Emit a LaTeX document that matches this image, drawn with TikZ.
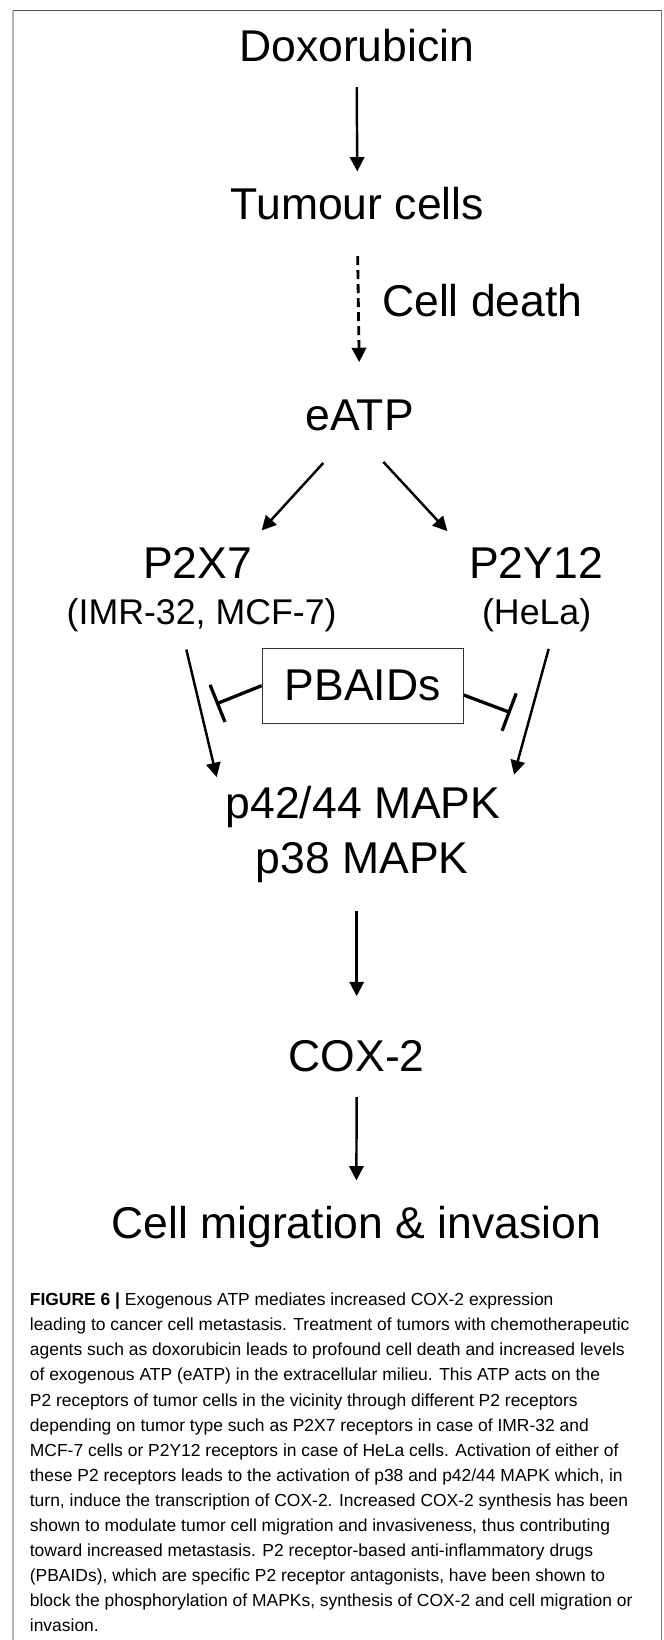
\documentclass[tikz,border=0pt]{standalone}
\usepackage{fontspec}
\setmainfont{Liberation Sans}
\usetikzlibrary{arrows.meta, positioning}
\definecolor{ctop}{HTML}{505050}
\definecolor{cleft}{HTML}{B4B4B4}
\definecolor{cright}{HTML}{7A7A7A}
\definecolor{cbox}{HTML}{333333}
\tikzset{
  every picture/.style={line width=2.1pt},
  lbl/.style={font=\fontsize{38}{46}\selectfont, inner sep=0pt, text height=1cm, text depth=0.35cm, anchor=base},
  sublbl/.style={font=\fontsize{30.5}{36}\selectfont, inner sep=0pt, text height=0.8cm, text depth=0.25cm, anchor=base},
  box/.style={draw=cbox, line width=0.9pt, inner sep=0pt, minimum width=6.03cm, minimum height=2.25cm, font=\fontsize{38}{46}\selectfont},
  arrow/.style={-{Triangle[length=0.43cm, width=0.43cm]}},
  block/.style={-{Bar[width=1.2cm]}, line width=2.8pt},
  capt/.style={font=\fontsize{14.9}{21.4}\selectfont, align=left, inner sep=0pt, anchor=base west},
}

\begin{document}
\begin{tikzpicture}
  \useasboundingbox (0,0) rectangle (19.89,-49.2);
  % figure frame
  \draw[cleft, line width=1.7pt] (0.38,-0.32) -- (0.38,-49.2);
  \draw[cright, line width=0.9pt] (19.85,-0.32) -- (19.85,-49.2);
  \draw[ctop, line width=1.3pt] (0.38,-0.32) -- (19.87,-0.32);
  % pathway
  \node[lbl] (dox) at (10.70,-1.85) {Doxorubicin};
  \node[lbl] (tum) at (10.72,-6.60) {Tumour cells};
  \node[lbl] (eatp) at (10.79,-12.90) {eATP};
  \draw[arrow, shorten <=0.38cm, shorten >=0.42cm] (dox.south) -- (tum.north);
  \draw[arrow, line width=2.4pt, dash pattern=on 0.27cm off 0.15cm, shorten <=0.70cm, shorten >=1.0cm] (tum.south) -- node[lbl, anchor=west, right=0.67cm, pos=0.45] (death) {Cell death} (eatp.north);
  \node[lbl] (p2x7) at (5.93,-17.35) {P2X7};
  \node[sublbl] (imr) at (6.05,-18.72) {(IMR-32, MCF-7)};
  \node[lbl] (p2y12) at (16.08,-17.34) {P2Y12};
  \node[sublbl] (hela) at (16.10,-18.72) {(HeLa)};
  \draw[arrow] ([xshift=-1.09cm, yshift=-0.6cm]eatp.south) -- ([xshift=1.92cm, yshift=0.4cm]p2x7.north);
  \draw[arrow] ([xshift=0.71cm, yshift=-0.57cm]eatp.south) -- ([xshift=-2.66cm, yshift=0.37cm]p2y12.north);
  % receptors to MAPK, blocked by PBAIDs
  \node[box] (pbaids) at (10.88,-20.57) {PBAIDs};
  \node[lbl] (mapk) at (10.89,-24.55) {p42/44 MAPK};
  \node[lbl] (p38) at (10.87,-26.20) {p38 MAPK};
  \draw[arrow] ([xshift=-0.46cm, yshift=-0.48cm]imr.south) -- ([xshift=-4.39cm, yshift=0.2cm]mapk.north);
  \draw[arrow] ([xshift=0.36cm, yshift=-0.46cm]hela.south) -- ([xshift=4.53cm, yshift=0.27cm]mapk.north);
  \coordinate (cutL) at (6.48,-21.12);
  \coordinate (cutR) at (15.32,-21.38);
  \draw[block] (pbaids.west) -- (cutL);
  \draw[block] ([yshift=-0.28cm]pbaids.east) -- (cutR);
  % downstream
  \node[lbl] (cox) at (10.70,-32.15) {COX-2};
  \node[lbl] (mig) at (10.69,-37.14) {Cell migration \& invasion};
  \draw[arrow, shorten <=0.75cm, shorten >=1.23cm] (p38.south -| cox.north) -- (cox.north);
  \draw[arrow, shorten <=0.38cm, shorten >=0.69cm] (cox.south) -- (mig.north);
  % caption (base = last line)
  \node[capt] (cap) at (0.86,-48.95) {\textbf{FIGURE 6 |} Exogenous ATP mediates increased COX-2 expression\\
leading to cancer cell metastasis. Treatment of tumors with chemotherapeutic\\
agents such as doxorubicin leads to profound cell death and increased levels\\
of exogenous ATP (eATP) in the extracellular milieu. This ATP acts on the\\
P2 receptors of tumor cells in the vicinity through different P2 receptors\\
depending on tumor type such as P2X7 receptors in case of IMR-32 and\\
MCF-7 cells or P2Y12 receptors in case of HeLa cells. Activation of either of\\
these P2 receptors leads to the activation of p38 and p42/44 MAPK which, in\\
turn, induce the transcription of COX-2. Increased COX-2 synthesis has been\\
shown to modulate tumor cell migration and invasiveness, thus contributing\\
toward increased metastasis. P2 receptor-based anti-inflammatory drugs\\
(PBAIDs), which are specific P2 receptor antagonists, have been shown to\\
block the phosphorylation of MAPKs, synthesis of COX-2 and cell migration or\\
invasion.};
\end{tikzpicture}
\end{document}
